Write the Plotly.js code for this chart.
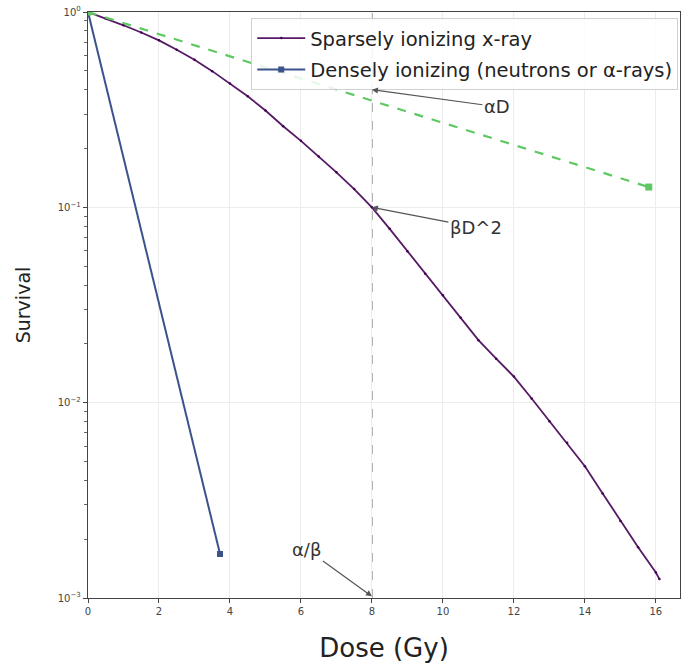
<!DOCTYPE html>
<html>
<head>
<meta charset="utf-8">
<script src="https://cdn.plot.ly/plotly-3.0.1.min.js"></script>
<style>html,body{margin:0;padding:0;background:#fff;}#chart{width:681px;height:663px;}</style>
</head>
<body>
<div id="chart"></div>
<script>
// Sparsely ionizing x-ray (dose in Gy, surviving fraction)
var xrayDose = [0, 0.5, 1.0, 1.5, 2.0, 2.5, 3.0, 3.5, 4.0, 4.5, 5.0, 5.5, 6.0, 6.5, 7.0, 7.5, 8.0, 8.5, 9.0, 9.5, 10.0, 10.5, 11.0, 11.5, 12.0, 12.5, 13.0, 13.5, 14.0, 14.5, 15.0, 15.5, 16.0, 16.1];
var xraySurv = [1, 0.927, 0.855, 0.785, 0.716, 0.641, 0.569, 0.498, 0.431, 0.370, 0.313, 0.260, 0.219, 0.182, 0.151, 0.124, 0.100, 0.0776, 0.0596, 0.0457, 0.0355, 0.0272, 0.0209, 0.0168, 0.0136, 0.0105, 0.00804, 0.00624, 0.00473, 0.00343, 0.00248, 0.00182, 0.00135, 0.00125];
// Densely ionizing (neutrons or alpha-rays)
var denseDose = [0, 3.72];
var denseSurv = [1, 0.00168];
// alpha D component (dashed)
var alphaDose = [0, 15.8];
var alphaSurv = [1, 0.127];
// Axis ticks
var xTicks = [0, 2, 4, 6, 8, 10, 12, 14, 16];
var yTickVals = [0.001, 0.01, 0.1, 1];
var yTickText = ['10<sup>\u22123</sup>', '10<sup>\u22122</sup>', '10<sup>\u22121</sup>', '10<sup>0</sup>'];
var yMinorTicks = [0.002, 0.003, 0.004, 0.005, 0.006, 0.007, 0.008, 0.009,
                   0.02, 0.03, 0.04, 0.05, 0.06, 0.07, 0.08, 0.09,
                   0.2, 0.3, 0.4, 0.5, 0.6, 0.7, 0.8, 0.9];
var alphaOverBeta = 8;

var traces = [
  {x: xrayDose, y: xraySurv, mode: 'lines+markers', name: 'Sparsely ionizing x-ray',
   legendgroup: 'a',
   line: {color: 'rgba(68,1,84,0.9)', width: 1.8},
   marker: {color: '#440154', size: 2.5, symbol: 'circle'}},
  {x: denseDose, y: denseSurv, mode: 'lines+markers', name: 'Densely ionizing (neutrons or \u03b1-rays)',
   legendgroup: 'b',
   line: {color: '#3b528b', width: 2},
   marker: {color: '#3b528b', size: 6, symbol: 'square'}},
  {x: alphaDose, y: alphaSurv, mode: 'lines+markers', showlegend: false,
   line: {color: '#5ec962', width: 2.2, dash: 'dash'},
   marker: {color: '#5ec962', size: 7, symbol: 'square'}}
];

var annFont = {family: 'DejaVu Sans, sans-serif', size: 18, color: '#333'};
var layout = {
  width: 681, height: 663,
  margin: {l: 88, r: 1, t: 12, b: 65},
  paper_bgcolor: '#fff', plot_bgcolor: '#fff',
  font: {family: 'DejaVu Sans, sans-serif', color: '#333'},
  showlegend: true,
  legend: {x: 0.997, xanchor: 'right', y: 0.99, yanchor: 'top',
           bgcolor: 'rgba(255,255,255,0.85)', bordercolor: '#d0d0d0', borderwidth: 1,
           font: {family: 'DejaVu Sans, sans-serif', size: 19.5, color: '#222'},
           itemwidth: 48,
           traceorder: 'grouped', tracegroupgap: 3},
  xaxis: {range: [0, 16.68], tickvals: xTicks, ticks: 'outside', ticklen: 4, tickcolor: '#444',
          tickfont: {size: 10, color: '#444'}, showgrid: true, gridcolor: '#ececec', gridwidth: 1,
          showline: true, linecolor: '#444', linewidth: 1.2, mirror: true, zeroline: false,
          title: {text: 'Dose (Gy)', font: {size: 26, color: '#222'}, standoff: 25}},
  yaxis: {type: 'log', range: [-3, 0], tickvals: yTickVals, ticktext: yTickText, ticks: 'outside', ticklen: 4,
          tickcolor: '#444', tickfont: {size: 10, color: '#444'}, showgrid: true, gridcolor: '#ececec',
          minor: {tickmode: 'array', tickvals: yMinorTicks, ticks: 'outside', ticklen: 3, tickcolor: '#666', showgrid: false},
          showline: true, linecolor: '#444', linewidth: 1.2, mirror: true, zeroline: false,
          title: {text: 'Survival', font: {size: 19, color: '#222'}, standoff: 22}},
  shapes: [{type: 'line', xref: 'x', yref: 'paper', x0: alphaOverBeta, x1: alphaOverBeta, y0: 0, y1: 1,
            line: {color: '#999', width: 1.6, dash: 'dash'}, layer: 'below'}],
  annotations: [
    {x: alphaOverBeta, y: Math.log10(0.4), xref: 'x', yref: 'y', text: '\u03b1D', showarrow: true,
     ax: 125, ay: 17, arrowhead: 2, arrowsize: 1, arrowwidth: 1.2, arrowcolor: '#555', font: annFont},
    {x: alphaOverBeta, y: Math.log10(0.1), xref: 'x', yref: 'y', text: '\u03b2D^2', showarrow: true,
     ax: 104, ay: 20, arrowhead: 2, arrowsize: 1, arrowwidth: 1.2, arrowcolor: '#555', font: annFont},
    {x: alphaOverBeta, y: Math.log10(0.00102), xref: 'x', yref: 'y', text: '\u03b1/\u03b2', showarrow: true,
     ax: -65, ay: -47, arrowhead: 2, arrowsize: 1, arrowwidth: 1.2, arrowcolor: '#555', font: annFont}
  ]
};

Plotly.newPlot('chart', traces, layout, {displayModeBar: false, staticPlot: true});
</script>
</body>
</html>
